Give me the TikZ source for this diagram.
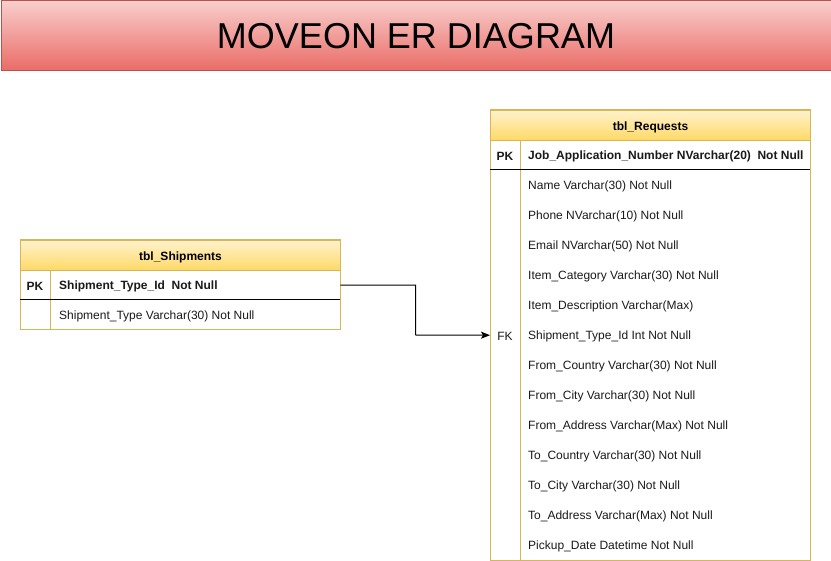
\documentclass[tikz,border=0pt]{standalone}
\usepackage{fontspec}
\setmainfont{Liberation Sans}
\usetikzlibrary{arrows.meta}
\definecolor{titletop}{HTML}{F8CECC}
\definecolor{titlebot}{HTML}{EA6B66}
\definecolor{titleline}{HTML}{B85450}
\definecolor{hdrtop}{HTML}{FFF2CC}
\definecolor{hdrbot}{HTML}{FFD966}
\definecolor{gold}{HTML}{D6B656}
\definecolor{rowtext}{HTML}{1A1A1A}
\begin{document}
\begin{tikzpicture}[x=1pt,y=-1pt,
  titlebox/.style={draw=titleline,line width=1pt,top color=titletop,bottom color=titlebot,
    minimum width=830pt,minimum height=70pt,inner sep=0pt,anchor=north west,
    font=\fontsize{36}{40}\selectfont},
  hdrbox/.style={draw=gold,line width=1pt,top color=hdrtop,bottom color=hdrbot,
    minimum width=320pt,minimum height=30pt,inner sep=0pt,anchor=north west},
  hdrtxt/.style={font=\fontsize{12}{14}\selectfont\bfseries, yshift=-1.5pt},
  rowbox/.style={minimum width=320pt,minimum height=30pt,inner sep=0pt,anchor=north west},
  keytxt/.style={font=\fontsize{12}{14}\selectfont, text=rowtext, yshift=-1.5pt},
  fieldtxt/.style={anchor=west,inner sep=0pt,font=\fontsize{12}{14}\selectfont, text=rowtext, yshift=-1.5pt},
  tblline/.style={draw=gold,line width=1pt},
  sepline/.style={draw=black,line width=1pt},
  conn/.style={draw=black,line width=1pt,-{Stealth[length=9pt,width=7pt,inset=2pt]}}
]
\useasboundingbox (0,0) rectangle (831,561);

% title
\node[titlebox] (title) at (0.5,0.5) {MOVEON ER DIAGRAM};

% ---------- tbl_Shipments ----------
\draw[tblline,fill=white] (20,240) rectangle (340,330);
\node[hdrbox] (shiphdr) at (20,240) {};
\node[hdrtxt] (shiphdrlbl) at (shiphdr.center) {tbl\_Shipments};
\node[rowbox] (shippk) at (20,270) {};
\node[rowbox] (shiprow1) at (20,300) {};
\draw[tblline] (50,270) -- (50,330);
\draw[sepline] (20,300) -- (340,300);
\node[keytxt] (shippklbl) at (35,285) {\bfseries PK};
\node[fieldtxt] (shipf1) at (59,285) {\bfseries Shipment\_Type\_Id\ \ Not Null};
\node[fieldtxt] (shipf2) at (59,315) {Shipment\_Type Varchar(30) Not Null};

% ---------- tbl_Requests ----------
\draw[tblline,fill=white] (490,110) rectangle (810,560);
\node[hdrbox] (reqhdr) at (490,110) {};
\node[hdrtxt] (reqhdrlbl) at (reqhdr.center) {tbl\_Requests};
\node[rowbox] (reqpk) at (490,140) {};
\draw[tblline] (520,140) -- (520,560);
\draw[sepline] (490,170) -- (810,170);
\node[keytxt] (reqpklbl) at (505,155) {\bfseries PK};
\node[fieldtxt] (reqf0) at (528,155) {\bfseries Job\_Application\_Number NVarchar(20)\ \ Not Null};
\node[fieldtxt] (reqf1) at (528,185) {Name Varchar(30) Not Null};
\node[fieldtxt] (reqf2) at (528,215) {Phone NVarchar(10) Not Null};
\node[fieldtxt] (reqf3) at (528,245) {Email NVarchar(50) Not Null};
\node[fieldtxt] (reqf4) at (528,275) {Item\_Category Varchar(30) Not Null};
\node[fieldtxt] (reqf5) at (528,305) {Item\_Description Varchar(Max)};
\node[rowbox] (reqfk) at (490,320) {};
\node[keytxt] (reqfklbl) at (505,335) {FK};
\node[fieldtxt] (reqf6) at (528,335) {Shipment\_Type\_Id Int Not Null};
\node[fieldtxt] (reqf7) at (528,365) {From\_Country Varchar(30) Not Null};
\node[fieldtxt] (reqf8) at (528,395) {From\_City Varchar(30) Not Null};
\node[fieldtxt] (reqf9) at (528,425) {From\_Address Varchar(Max) Not Null};
\node[fieldtxt] (reqf10) at (528,455) {To\_Country Varchar(30) Not Null};
\node[fieldtxt] (reqf11) at (528,485) {To\_City Varchar(30) Not Null};
\node[fieldtxt] (reqf12) at (528,515) {To\_Address Varchar(Max) Not Null};
\node[fieldtxt] (reqf13) at (528,545) {Pickup\_Date Datetime Not Null};

% connector
\coordinate (bend) at (415.5,335);
\draw[conn] (shippk.east) -| (bend) -- (reqfk.west);
\end{tikzpicture}
\end{document}
